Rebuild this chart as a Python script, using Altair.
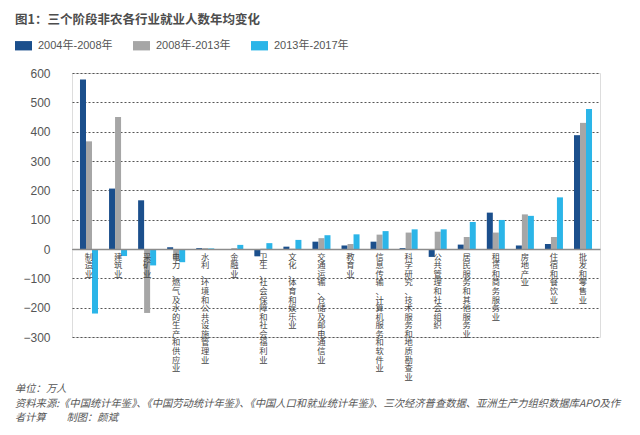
import altair as alt
import pandas as pd

categories = [
    "制造业", "建筑业", "采矿业", "电力、燃气及水的生产和供应业",
    "水利、环境和公共设施管理业", "金融业", "卫生、社会保障和社会福利业",
    "文化、体育和娱乐业", "交通运输、仓储及邮电通信业", "教育业",
    "信息传输、计算机服务和软件业", "科学研究、技术服务和地质勘查业",
    "公共管理和社会组织", "居民服务和其他服务业", "租赁和商务服务业",
    "房地产业", "住宿和餐饮业", "批发和零售业",
]
series = ["2004年-2008年", "2008年-2013年", "2013年-2017年"]
v_0408 = [578, 206, 166, 6, 3, 0, -25, 8, 25, 12, 25, 3, -27, 15, 124, 12, 17, 388]
v_0813 = [367, 450, -218, -40, 3, 3, 1, 1, 37, 17, 49, 56, 59, 41, 56, 118, 41, 430]
v_1317 = [-220, -24, -56, -45, 2, 14, 20, 31, 47, 50, 61, 67, 67, 92, 99, 113, 176, 477]
colors = ["#1b4f8c", "#a6a6a6", "#2bb5e8"]
y_ticks = [-300, -200, -100, 0, 100, 200, 300, 400, 500, 600]

title_text = "图1：三个阶段非农各行业就业人数年均变化"
footer_lines = [
    "单位：万人",
    "资料来源:《中国统计年鉴》、《中国劳动统计年鉴》、《中国人口和就业统计年鉴》、三次经济普查数据、亚洲生产力组织数据库APO及作",
    "者计算　　制图：颜斌",
]

rows = []
for s, vals in zip(series, [v_0408, v_0813, v_1317]):
    for c, v in zip(categories, vals):
        rows.append({"行业": c, "阶段": s, "值": v})
df = pd.DataFrame(rows)

FONT = "Noto Sans CJK SC"
LATIN = "Liberation Sans, Noto Sans CJK SC"
W, H = 528, 264

bars = alt.Chart(df).mark_bar().encode(
    x=alt.X(
        "行业:N", sort=categories,
        scale=alt.Scale(paddingInner=0.38, paddingOuter=0.275),
        axis=alt.Axis(
            title=None, orient="bottom", offset=-88, labelAngle=0,
            labelExpr="split(datum.label, '')", labelFont=FONT,
            labelFontSize=8.3, labelLineHeight=8.6, labelColor="#444",
            ticks=False, domainColor="#8c8c8c", domainWidth=1.5,
            labelPadding=3, zindex=1, labelBaseline="top", labelAlign="center",
        ),
    ),
    xOffset=alt.XOffset("阶段:N", sort=series, scale=alt.Scale(paddingInner=0, paddingOuter=0)),
    y=alt.Y(
        "值:Q",
        scale=alt.Scale(domain=[-300, 600], nice=False, zero=False),
        axis=alt.Axis(
            title=None, values=y_ticks, domain=False, ticks=False,
            labelPadding=22, labelFont="Liberation Sans", labelFontSize=12,
            labelColor="#555", gridDash=[2, 2], gridColor="#555", gridWidth=1,
        ),
    ),
    color=alt.Color(
        "阶段:N", sort=series,
        scale=alt.Scale(domain=series, range=colors),
        legend=alt.Legend(
            title=None, orient="none", legendX=-57, legendY=-36,
            direction="horizontal", symbolType="M-1,-0.55H1V0.55H-1Z",
            symbolSize=289, symbolStrokeWidth=0, symbolOpacity=1,
            labelFont=LATIN, labelFontSize=11, labelColor="#555",
            columnPadding=20, labelOffset=6,
        ),
    ),
)

footer = alt.Chart(pd.DataFrame({"t": ["\n".join(footer_lines)]})).mark_text(
    align="left", baseline="top", lineBreak="\n", lineHeight=14.5,
    font=FONT, fontSize=10.3, fontStyle="italic", color="#555",
).encode(text="t:N", x=alt.value(-57), y=alt.value(311))

chart = alt.layer(bars, footer).properties(
    width=W, height=H,
    title=alt.TitleParams(
        text=title_text, anchor="start", frame="group", dx=-57, offset=11,
        font=FONT, fontSize=12.5, fontWeight="bold", color="#4d4d4d",
    ),
    padding={"left": 64, "top": 65, "right": 24, "bottom": 88},
    autosize="none",
).configure_view(stroke=None).configure(background="white")

chart.save("out.html", embed_options={"renderer": "svg", "actions": False})
